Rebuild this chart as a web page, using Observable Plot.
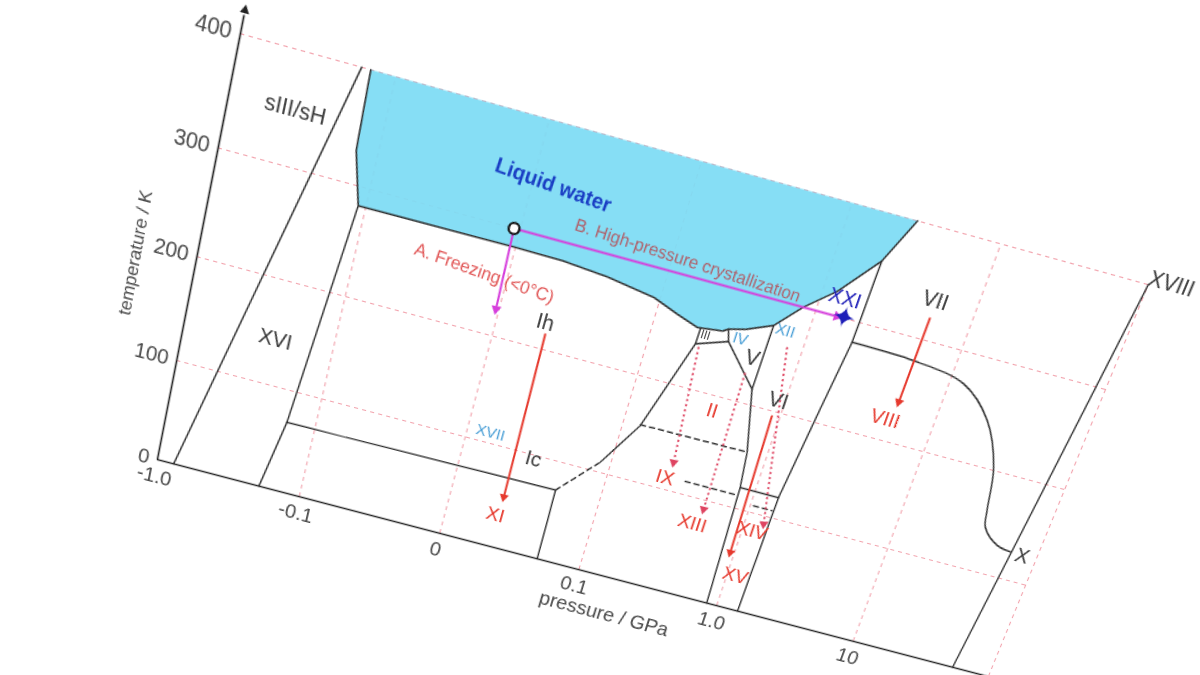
<!DOCTYPE html>
<html><head><meta charset="utf-8">
<script src="https://cdn.jsdelivr.net/npm/d3@7"></script>
<script src="https://cdn.jsdelivr.net/npm/@observablehq/plot@0.6"></script>
<style>
html,body{margin:0;padding:0;background:#fff;overflow:hidden;width:1200px;height:675px;}
#chart{position:absolute;left:0;top:0;width:1200px;height:675px;overflow:hidden;}
#chart svg{position:absolute;left:0;top:0;transform-origin:0 0;max-width:none;}
</style></head><body><div id="chart"></div>
<script>
// ---- axis ticks ----
const pressTicks = [-1, -0.1, 0, 0.1, 1, 10, 100];
const pressTickLabels = ["-1.0", "-0.1", "0", "0.1", "1.0", "10"]; // the 100 label lies outside the photographed page
const tempTicks = [0, 100, 200, 300, 400];
const tempTickLabels = ["0", "100", "200", "300", "400"];

// ---- phase boundaries: [pressure GPa, temperature K] ----
const liquidEdge = [[-0.145,400],[-0.138,330],[-0.112,283],[-0.001,284],[0.0317,283.5],[0.063,280],[0.096,273],[0.137,264],[0.195,257],[0.287,260],[0.309,263],[0.398,267],[0.585,277],[0.822,300],[1.247,322],[2.02,358],[2.75,400]];
const sIIIxvi  = [[-0.166,400],[-0.769,0]];
const xviIh    = [[-0.112,283],[-0.156,69],[-0.193,0]];
const icXi     = [[-0.156,69],[0.069,72]];
const xiEdge   = [[0.069,72],[0.070,0]];
const ihII     = [[0.093,110],[0.131,154],[0.204,242],[0.205,257]];
const iiiEdge  = [[0.204,242],[0.327,252],[0.309,263]];
const vEdge    = [[0.327,252],[0.578,215],[0.585,277]];
const viLeft   = [[0.578,215],[0.731,156],[0.785,121],[0.847,0]];
const viRight  = [[2.02,358],[1.977,281],[1.738,214],[1.469,121],[1.419,0]];
const viXv     = [[0.785,121],[1.469,121]];
const viiViii  = [[1.977,281],[5.30,279.5],[12.4,271],[21.4,244],[30.7,203],[35.8,161],[38.5,145],[51.0,131],[65.0,128]];
const xXviii   = [[100,400],[54.3,0]];
const dashIcII   = [[0.069,72],[0.093,110]];
const dashIIIX   = [[0.131,155],[0.731,156]];
const dashIXXIII = [[0.333,113],[0.780,113]];
const dashVIXIV  = [[1.052,107],[1.426,107]];

// ---- arrows: [p1, t1, p2, t2] ----
const coolArrows   = [[0.0337,215,0.0361,52],[5.37,321,5.31,239],[0.883,196,0.938,56]];
const dottedArrows = [[0.217,240,0.256,128],[0.483,228,0.504,91],[0.789,261,1.346,92]];
const pathArrows   = [[-0.004,300,-0.002,225],[-0.004,300,1.396,300]];
const startPoint   = [[-0.004,300]];
const xxiPoint     = [[1.549,300]];

// ---- labels ----
const blackLabels = [
  {text:"sIII/sH", p:-0.372, t:350}, {text:"XVI", p:-0.244, t:144},
  {text:"Ih", p:0.0317, t:225}, {text:"Ic", p:0.0485, t:96},
  {text:"V", p:0.499, t:243}, {text:"VI", p:0.899, t:211},
  {text:"VII", p:5.30, t:337}, {text:"X", p:79.4, t:127}
];
const redLabels = [
  {text:"XI", p:0.0337, t:33}, {text:"II", p:0.356, t:186}, {text:"IX", p:0.242, t:112},
  {text:"XIII", p:0.454, t:75}, {text:"XIV", p:1.172, t:83}, {text:"XV", p:1.140, t:35},
  {text:"VIII", p:4.75, t:221}
];
const blueLabels = [
  {text:"XVII", p:0.0157, t:110}, {text:"IV", p:0.384, t:257}, {text:"XII", p:0.710, t:275}
];
const xxiLabel = [{text:"XXI", p:1.435, t:318}];
const iiiLabel = [{text:"III", p:0.227, t:252}];
const xviiiLabel = [{text:"XVIII", p:97.7, t:406}];
const liquidLabel = [{text:"Liquid water", p:0.0133, t:346}];
const freezeLabel = [{text:"A. Freezing (<0\u00b0C)", p:-0.0152, t:254}];
const hpLabel = [{text:"B. High-pressure crystallization", p:0.127, t:313}];

// pressure axis: log for |p|>=0.1, linear in between
function axisPos(p) {
  if (p >= 0.1) return 3 + Math.log10(p / 0.1);
  if (p <= -0.1) return 1 - Math.log10(-p / 0.1);
  return 2 + p / 0.1;
}

const W = 1000, H = 540, mL = 80, mR = 60, mT = 50, mB = 90;
const uMin = axisPos(pressTicks[0]), uMax = axisPos(pressTicks[pressTicks.length - 1]);
const tMin = tempTicks[0], tMax = tempTicks[tempTicks.length - 1];
const kx = (W - mL - mR) / (uMax - uMin), ky = (H - mT - mB) / (tMax - tMin);
const axisTop = 420;

const rows = (id, arr) => arr.map(([p, t]) => ({id, p, t}));
const liquidRows = rows("liq", liquidEdge);
const solidRows = [
  ...rows("a", sIIIxvi), ...rows("b", xviIh), ...rows("c", icXi), ...rows("d", xiEdge),
  ...rows("e", ihII), ...rows("f", iiiEdge), ...rows("g", vEdge), ...rows("h", viLeft),
  ...rows("i", viRight), ...rows("j", viXv), ...rows("k", xXviii)
];
const viiRows = rows("vii", viiViii);
const dashedRows = [...rows("d1", dashIcII), ...rows("d2", dashIIIX), ...rows("d3", dashIXXIII), ...rows("d4", dashVIXIV)];

const headAngle = d => Math.atan2((axisPos(d[2]) - axisPos(d[0])) * kx, (d[3] - d[1]) * ky) * 180 / Math.PI;

const X = d => axisPos(d.p), Y = d => d.t;
const GRID = "#f2a3ad", EDGE = "#2e2e2e", AXIS = "#222", INK = "#3a3a3a";
const RED = "#e63a2e", DOTRED = "#de4461", MAG = "#d63fdc", BLUE = "#4a9fd6", XXI = "#1d1db8";
const FONT = "Liberation Sans, Arial, sans-serif";

const chart = Plot.plot({
  width: W, height: H, marginLeft: mL, marginRight: mR, marginTop: mT, marginBottom: mB,
  style: {fontFamily: FONT, background: "transparent", overflow: "visible"},
  x: {domain: [uMin, uMax], axis: null},
  y: {domain: [tMin, tMax], axis: null},
  marks: [
    Plot.ruleX(pressTicks.slice(1), {x: axisPos, y1: tMin, y2: tMax, stroke: GRID, strokeWidth: 1.1, strokeDasharray: "4,4"}),
    Plot.ruleY(tempTicks.slice(1), {y: d => d, x1: uMin, x2: uMax, stroke: GRID, strokeWidth: 1.1, strokeDasharray: "4,4"}),
    Plot.line(liquidRows, {x: X, y: Y, fill: "#7ddcf4", fillOpacity: 0.93, stroke: "none"}),
    Plot.line(liquidRows, {x: X, y: Y, stroke: EDGE, strokeWidth: 1.5, strokeLinejoin: "round"}),
    Plot.line(solidRows, {x: X, y: Y, z: "id", stroke: EDGE, strokeWidth: 1.4}),
    Plot.line(viiRows, {x: X, y: Y, stroke: EDGE, strokeWidth: 1.4, curve: "catmull-rom"}),
    Plot.line(dashedRows, {x: X, y: Y, z: "id", stroke: EDGE, strokeWidth: 1.5, strokeDasharray: "5,4"}),
    // axes
    Plot.ruleY([tMin], {x1: uMin, x2: uMax, stroke: AXIS, strokeWidth: 1.6}),
    Plot.link([0], {x1: uMin, x2: uMin, y1: tMin, y2: axisTop - 4, stroke: AXIS, strokeWidth: 1.6}),
    Plot.dot([0], {x: uMin, y: axisTop, symbol: "triangle2", r: 4, fill: AXIS}),
    Plot.text(pressTicks.slice(0, pressTickLabels.length), {x: axisPos, y: tMin, text: (d, i) => pressTickLabels[i], dy: 17, fontSize: 20, fill: "#4a4a4a"}),
    Plot.text(tempTicks, {x: uMin, y: d => d, text: (d, i) => tempTickLabels[i], textAnchor: "end", dx: -8, fontSize: 20, fill: "#4a4a4a"}),
    Plot.text(["temperature / K"], {x: uMin, y: 188, dx: -57, rotate: -90, fontSize: 17, fill: "#4a4a4a"}),
    Plot.text(["pressure / GPa"], {x: 3.26, y: tMin, dy: 38, fontSize: 20, fill: "#4a4a4a"}),
    // arrows
    Plot.link(coolArrows, {x1: d => axisPos(d[0]), y1: d => d[1], x2: d => axisPos(d[2]), y2: d => d[3], stroke: RED, strokeWidth: 2}),
    Plot.dot(coolArrows, {x: d => axisPos(d[2]), y: d => d[3], symbol: "triangle2", r: 4.3, fill: RED, rotate: headAngle}),
    Plot.link(dottedArrows, {x1: d => axisPos(d[0]), y1: d => d[1], x2: d => axisPos(d[2]), y2: d => d[3], stroke: DOTRED, strokeWidth: 2, strokeDasharray: "2,3"}),
    Plot.dot(dottedArrows, {x: d => axisPos(d[2]), y: d => d[3], symbol: "triangle2", r: 4.3, fill: DOTRED, rotate: headAngle}),
    Plot.link(pathArrows, {x1: d => axisPos(d[0]), y1: d => d[1], x2: d => axisPos(d[2]), y2: d => d[3], stroke: MAG, strokeWidth: 2}),
    Plot.dot(pathArrows, {x: d => axisPos(d[2]), y: d => d[3], symbol: "triangle2", r: 4.5, fill: MAG, rotate: headAngle}),
    Plot.dot(startPoint, {x: d => axisPos(d[0]), y: d => d[1], r: 5, fill: "white", stroke: "#111", strokeWidth: 2.2}),
    Plot.text(xxiPoint, {x: d => axisPos(d[0]), y: d => d[1], text: () => "\u2726", fontSize: 27, fill: XXI, fontFamily: "DejaVu Sans"}),
    // labels
    Plot.text(blackLabels, {x: X, y: Y, text: "text", fontSize: 20, fill: INK}),
    Plot.text(redLabels, {x: X, y: Y, text: "text", fontSize: 19, fill: RED}),
    Plot.text(blueLabels, {x: X, y: Y, text: "text", fontSize: 15, fill: BLUE}),
    Plot.text(xxiLabel, {x: X, y: Y, text: "text", fontSize: 19, fill: XXI}),
    Plot.text(iiiLabel, {x: X, y: Y, text: "text", fontSize: 11, fill: INK}),
    Plot.text(xviiiLabel, {x: X, y: Y, text: "text", fontSize: 20, fill: INK, textAnchor: "start"}),
    Plot.text(liquidLabel, {x: X, y: Y, text: "text", fontSize: 19, fontWeight: "bold", fill: "#1a3fc4", rotate: 4.5}),
    Plot.text(freezeLabel, {x: X, y: Y, text: "text", fontSize: 16.5, fill: "#e05252", rotate: 4.5}),
    Plot.text(hpLabel, {x: X, y: Y, text: "text", fontSize: 16, fill: "#b0606a", rotate: 2.5})
  ]
});

// perspective placement: map plot corners to their place in the photographed page
function homography(src, dst) {
  const A = [], b = [];
  for (let i = 0; i < 4; i++) {
    const [x, y] = src[i], [u, v] = dst[i];
    A.push([x, y, 1, 0, 0, 0, -u * x, -u * y]); b.push(u);
    A.push([0, 0, 0, x, y, 1, -v * x, -v * y]); b.push(v);
  }
  const n = 8;
  for (let c = 0; c < n; c++) {
    let piv = c;
    for (let r = c + 1; r < n; r++) if (Math.abs(A[r][c]) > Math.abs(A[piv][c])) piv = r;
    [A[c], A[piv]] = [A[piv], A[c]]; [b[c], b[piv]] = [b[piv], b[c]];
    for (let r = 0; r < n; r++) {
      if (r === c) continue;
      const f = A[r][c] / A[c][c];
      for (let k = c; k < n; k++) A[r][k] -= f * A[c][k];
      b[r] -= f * b[c];
    }
  }
  return b.map((v, i) => v / A[i][i]);
}
const sx = chart.scale("x"), sy = chart.scale("y");
const src = [[sx.apply(uMin), sy.apply(tMin)], [sx.apply(uMax), sy.apply(tMin)], [sx.apply(uMax), sy.apply(tMax)], [sx.apply(uMin), sy.apply(tMax)]];
const dst = [[157, 459], [988, 676], [1148, 284], [240, 33]];
const h = homography(src, dst);
chart.style.transform = `matrix3d(${h[0]},${h[3]},0,${h[6]},${h[1]},${h[4]},0,${h[7]},0,0,1,0,${h[2]},${h[5]},0,1)`;
document.getElementById("chart").appendChild(chart);
</script></body></html>
